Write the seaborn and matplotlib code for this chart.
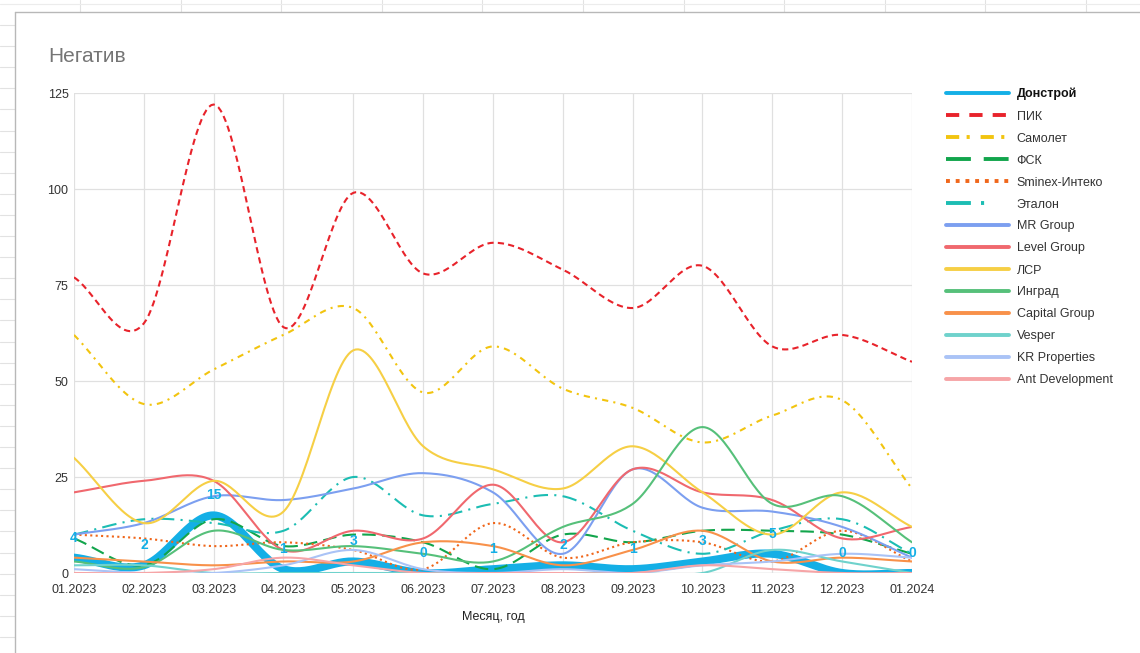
import numpy as np
import pandas as pd
import matplotlib.pyplot as plt
from matplotlib.lines import Line2D
import seaborn as sns

sns.set_theme(style="white")
plt.rcParams['font.family'] = ['Liberation Sans', 'DejaVu Sans']

# --- данные ---
months = ['01.2023', '02.2023', '03.2023', '04.2023', '05.2023', '06.2023', '07.2023',
          '08.2023', '09.2023', '10.2023', '11.2023', '12.2023', '01.2024']

donstroy = [4, 2, 15, 1, 3, 0, 1, 2, 1, 3, 5, 0, 0]
pik = [77, 65, 122, 64, 99, 78, 86, 79, 69, 80, 59, 62, 55]
samolet = [62, 44, 53, 62, 69, 47, 59, 48, 43, 34, 41, 45, 22]
fsk = [9, 2, 14, 7, 10, 8, 1, 10, 8, 11, 11, 10, 5]
sminex = [10, 9, 7, 8, 6, 1, 13, 4, 8, 8, 3, 11, 3]
etalon = [10, 14, 13, 11, 25, 15, 18, 20, 11, 5, 11, 14, 5]
mr_group = [10, 13, 20, 19, 22, 26, 21, 5, 27, 17, 16, 12, 4]
level_group = [21, 24, 24, 6, 11, 9, 23, 8, 27, 21, 19, 9, 12]
lsr = [30, 13, 24, 16, 58, 33, 27, 22, 33, 21, 10, 21, 12]
ingrad = [3, 1.5, 11, 6, 7, 5, 3, 12, 18, 38, 18, 20, 8]
capital_group = [4, 3, 2, 3, 3, 8, 7, 2, 6, 11, 3, 4, 3]
vesper = [2, 2, 0, 0, 0, 0, 0, 0, 0, 0, 6, 3, 0]
kr_properties = [1, 0, 0, 2, 6, 1, 0, 1, 0, 2, 3, 5, 4]
ant_development = [0, 0, 1, 4, 2, 0, 0, 0, 0, 2, 1, 0, 0]

names = ['Донстрой', 'ПИК', 'Самолет', 'ФСК', 'Sminex-Интеко', 'Эталон', 'MR Group',
         'Level Group', 'ЛСР', 'Инград', 'Capital Group', 'Vesper', 'KR Properties',
         'Ant Development']
series = [donstroy, pik, samolet, fsk, sminex, etalon, mr_group, level_group, lsr,
          ingrad, capital_group, vesper, kr_properties, ant_development]

# стиль линий
colors = ['#14afe6', '#e8232b', '#f2c40f', '#12a54c', '#f0661a', '#1cbdb3', '#7c9ff0',
          '#f0686e', '#f6cf45', '#56c07a', '#f8914a', '#6fd2cc', '#aac3f6', '#f6a5a7']
styles = ['-', (0, (3, 2)), (0, (3, 2.5, 1, 2.5)), (0, (6.5, 3)), (0, (1, 1.6)),
          (0, (7, 3, 1, 3)), '-', '-', '-', '-', '-', '-', '-', '-']
legend_styles = ['-', (0, (3.4, 2.6)), (0, (3.4, 1.9, 0.8, 2.8)), (0, (6.4, 3.3)),
                 (0, (1, 1.5)), (0, (6.4, 2.6, 0.8, 10)), '-', '-', '-', '-', '-', '-', '-', '-']
widths = [5.8] + [1.5] * 13


def smooth(xs, ys, n=30):
    """кубическая эрмитова кривая через точки (касательные Catmull-Rom)"""
    xs = np.asarray(xs, float)
    ys = np.asarray(ys, float)
    m = np.gradient(ys)
    t = np.linspace(0, 1, n)
    h00 = 2 * t**3 - 3 * t**2 + 1
    h10 = t**3 - 2 * t**2 + t
    h01 = -2 * t**3 + 3 * t**2
    h11 = t**3 - t**2
    out_x, out_y = [], []
    for i in range(len(xs) - 1):
        out_x.append(xs[i] + t * (xs[i + 1] - xs[i]))
        out_y.append(h00 * ys[i] + h10 * m[i] + h01 * ys[i + 1] + h11 * m[i + 1])
    return np.concatenate(out_x), np.concatenate(out_y)


fig = plt.figure(figsize=(11.4, 6.53), dpi=100)
ax = fig.add_axes([74 / 1140, 1 - 573 / 653, (912 - 74) / 1140, (573 - 93) / 653])

x = np.arange(len(months))
for name, vals, c, ls, lw in zip(names, series, colors, styles, widths):
    sx, sy = smooth(x, vals)
    sns.lineplot(x=sx, y=sy, ax=ax, color=c, linewidth=lw, linestyle=ls,
                 estimator=None, sort=False, legend=False)

# подписи значений Донстрой
for xi, v in zip(x, donstroy):
    ax.annotate(str(v), (xi, v), xytext=(0, 14.5), textcoords='offset points',
                ha='center', va='center', fontsize=10, fontweight='bold',
                color=colors[0], annotation_clip=False)

ax.set_xlim(0, len(months) - 1)
ax.set_ylim(0, 125)
ax.set_xticks(x)
ax.set_xticklabels(months)
ax.set_yticks([0, 25, 50, 75, 100, 125])
ax.tick_params(axis='x', length=0, pad=8, labelsize=9, labelcolor='#333333')
ax.tick_params(axis='y', length=0, pad=4, labelsize=9, labelcolor='#333333')
ax.grid(True, color='#e0e0e0', linewidth=0.9)
ax.set_axisbelow(True)
for s in ax.spines.values():
    s.set_visible(False)
ax.axhline(0, color='#c8c8c8', linewidth=0.9, zorder=0.5)
ax.set_xlabel('Месяц, год', fontsize=9, color='#222222', labelpad=11)
ax.set_ylabel('')

fig.text(48 / 1140, 1 - 57 / 653, 'Негатив', fontsize=15, color='#757575',
         ha='left', va='center')

# легенда
handles = [Line2D([], [], color=c, linestyle=ls, linewidth=2.8)
           for c, ls in zip(colors, legend_styles)]
leg = fig.legend(handles, names, loc='upper left', bbox_to_anchor=(946 / 1140, 1 - 88 / 653),
                 frameon=False, fontsize=9, handlelength=5.0, handletextpad=0.65,
                 labelspacing=0.8, borderpad=0, borderaxespad=0)
for txt in leg.get_texts():
    txt.set_color('#333333')
leg.get_texts()[0].set_fontweight('bold')
leg.get_texts()[0].set_color('#111111')

# рамка листа (фон таблицы)
W, H = 1140, 653
for xx in np.arange(80, W, 100.6):
    fig.add_artist(Line2D([xx / W, xx / W], [1, 1 - 12 / H], color='#e2e2e2', lw=0.8))
for yy in np.arange(25, H, 21.1):
    fig.add_artist(Line2D([0, 15 / W], [1 - yy / H, 1 - yy / H], color='#e2e2e2', lw=0.8))
fig.add_artist(Line2D([0, 1], [1 - 4 / H, 1 - 4 / H], color='#ececec', lw=0.8))
fig.add_artist(Line2D([15 / W, 1], [1 - 12 / H, 1 - 12 / H], color='#b8b8b8', lw=1.0))
fig.add_artist(Line2D([15 / W, 15 / W], [0, 1 - 12 / H], color='#b8b8b8', lw=1.0))

fig.savefig('out.png', dpi=100)
